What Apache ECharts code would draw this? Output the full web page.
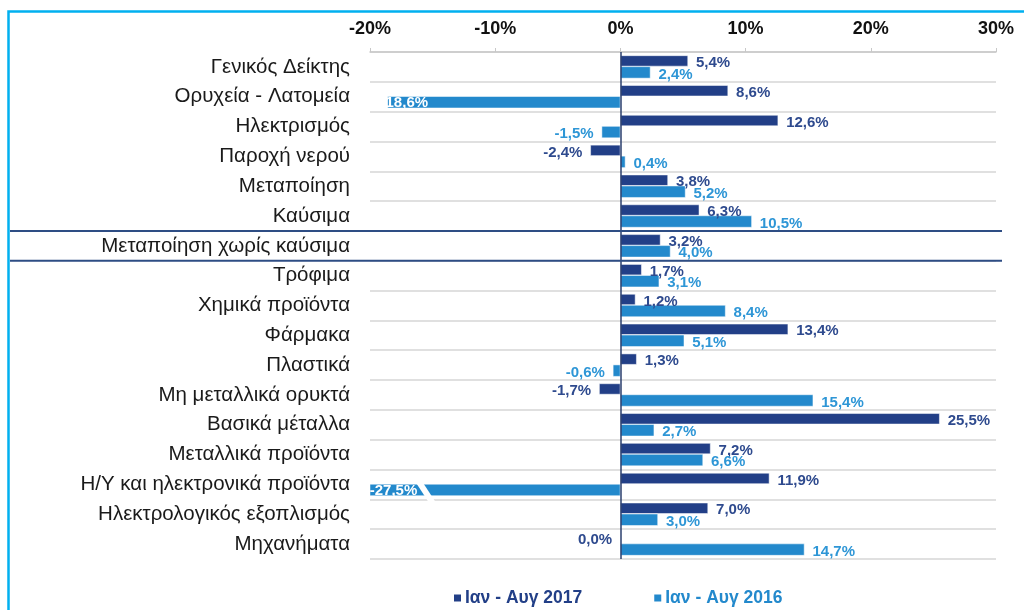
<!DOCTYPE html>
<html>
<head>
<meta charset="utf-8">
<script src="https://cdn.jsdelivr.net/npm/echarts@6/dist/echarts.min.js"></script>
<style>
html,body{margin:0;padding:0;background:#fff;}
#c{width:1024px;height:610px;}
</style>
</head>
<body>
<div id="c"></div>
<script>
var categories = [
  'Γενικός Δείκτης',
  'Ορυχεία - Λατομεία',
  'Ηλεκτρισμός',
  'Παροχή νερού',
  'Μεταποίηση',
  'Καύσιμα',
  'Μεταποίηση χωρίς καύσιμα',
  'Τρόφιμα',
  'Χημικά προϊόντα',
  'Φάρμακα',
  'Πλαστικά',
  'Μη μεταλλικά ορυκτά',
  'Βασικά μέταλλα',
  'Μεταλλικά προϊόντα',
  'Η/Υ και ηλεκτρονικά προϊόντα',
  'Ηλεκτρολογικός εξοπλισμός',
  'Μηχανήματα'
];
var values2017 = [5.4, 8.6, 12.6, -2.4, 3.8, 6.3, 3.2, 1.7, 1.2, 13.4, 1.3, -1.7, 25.5, 7.2, 11.9, 7.0, 0.0];
var values2016 = [2.4, -18.6, -1.5, 0.4, 5.2, 10.5, 4.0, 3.1, 8.4, 5.1, -0.6, 15.4, 2.7, 6.6, -27.5, 3.0, 14.7];
var seriesNames = ['Ιαν - Αυγ 2017', 'Ιαν - Αυγ 2016'];
var axisMin = -20, axisMax = 30, axisStep = 10;
var highlightCategory = 'Μεταποίηση χωρίς καύσιμα';

var DARK = '#223F87', LIGHT = '#2389CC';
var DARK_TXT = '#2E4A8E', LIGHT_TXT = '#2E96D6';
var FONT = '"Liberation Sans", Arial, sans-serif';

function fmt(v){ return v.toFixed(1).replace('.', ',') + '%'; }

function buildData(vals){
  return vals.map(function(v){
    var item = {value: v};
    if (v < axisMin) {
      item.label = {position: 'insideLeft', color: '#fff', distance: 0, offset: [0, 1]};
    } else if (v < axisMin + 5) {
      item.label = {position: 'insideLeft', color: '#fff', distance: 0, offset: [-7, 1]};
    } else if (v <= 0) {
      item.label = {position: 'left'};
    }
    return item;
  });
}

var chart = echarts.init(document.getElementById('c'));
var labelCommon = {
  show: true, position: 'right', distance: 8,
  formatter: function(p){ return fmt(p.value); },
  fontFamily: FONT, fontSize: 15, fontWeight: 'bold', offset: [0, 2]
};
var option = {
  animation: false,
  backgroundColor: '#fff',
  grid: {left: 370, right: 28, top: 52, bottom: 51, containLabel: false},
  legend: {
    top: 584,
    left: 447,
    itemWidth: 9, itemHeight: 9, itemGap: 70,
    icon: 'rect',
    textStyle: {fontFamily: FONT, fontSize: 17.5, fontWeight: 'bold', padding: [0, 0, 0, -2]},
    data: [
      {name: seriesNames[0], textStyle: {color: DARK}},
      {name: seriesNames[1], textStyle: {color: LIGHT}}
    ]
  },
  xAxis: {
    type: 'value', position: 'top',
    min: axisMin, max: axisMax, interval: axisStep,
    axisLine: {show: true, lineStyle: {color: '#C8C8C8', width: 1.5}},
    axisTick: {show: true, length: 4, lineStyle: {color: '#C8C8C8'}},
    splitLine: {show: false},
    axisLabel: {
      formatter: function(v){ return v + '%'; },
      fontFamily: FONT, fontSize: 18, fontWeight: 'bold', color: '#111', margin: 14
    }
  },
  yAxis: {
    type: 'category', inverse: true, data: categories,
    axisLine: {show: false},
    axisTick: {show: false},
    splitLine: {show: true, lineStyle: {color: '#D6D6D6', width: 1.5}},
    axisLabel: {fontFamily: FONT, fontSize: 20.5, color: '#1a1a1a', margin: 20}
  },
  series: [
    {
      name: seriesNames[0], type: 'bar', data: buildData(values2017),
      barWidth: 11, barGap: '0%',
      itemStyle: {color: DARK, borderColor: '#fff', borderWidth: 0.5},
      label: Object.assign({}, labelCommon, {color: DARK_TXT}),
      markLine: {
        silent: true, symbol: 'none', label: {show: false},
        lineStyle: {color: '#2B3F6E', width: 1.5, type: 'solid'},
        data: [{xAxis: 0}]
      },
      z: 3
    },
    {
      name: seriesNames[1], type: 'bar', data: buildData(values2016),
      barWidth: 12, clip: true,
      itemStyle: {color: LIGHT, borderColor: '#fff', borderWidth: 0.5},
      label: Object.assign({}, labelCommon, {color: LIGHT_TXT}),
      z: 3
    }
  ]
};
chart.setOption(option);

// Dark separators around the highlighted category, from the axis scale
var idx = categories.indexOf(highlightCategory);
var yc = chart.convertToPixel({yAxisIndex: 0}, categories[idx]);
var yn = chart.convertToPixel({yAxisIndex: 0}, categories[idx + 1]);
var half = (yn - yc) / 2;
var x0 = 10, x1 = 1002;

// Axis-break slash on the bar that exceeds the axis minimum
var graphics = [
  {type: 'rect', left: 6, top: 9, shape: {width: 1040, height: 640},
   style: {fill: 'none', stroke: '#00B0F0', lineWidth: 2.5}, silent: true},
  {type: 'line', shape: {x1: x0, y1: yc - half, x2: x1, y2: yc - half},
   style: {stroke: '#2E4D84', lineWidth: 2}, z: 10, silent: true},
  {type: 'line', shape: {x1: x0, y1: yc + half, x2: x1, y2: yc + half},
   style: {stroke: '#2E4D84', lineWidth: 2}, z: 10, silent: true}
];
values2016.forEach(function(v, i){
  if (v < axisMin) {
    var cy = chart.convertToPixel({yAxisIndex: 0}, categories[i]) + 6;
    var bx = chart.convertToPixel({xAxisIndex: 0}, axisMin + 4.3);
    graphics.push({type: 'polygon', z: 20, silent: true,
      shape: {points: [[bx - 8, cy - 8], [bx - 1, cy - 8], [bx + 12, cy + 12], [bx + 5, cy + 12]]},
      style: {fill: '#fff'}});
  }
});
chart.setOption({graphic: graphics});
</script>
</body>
</html>
